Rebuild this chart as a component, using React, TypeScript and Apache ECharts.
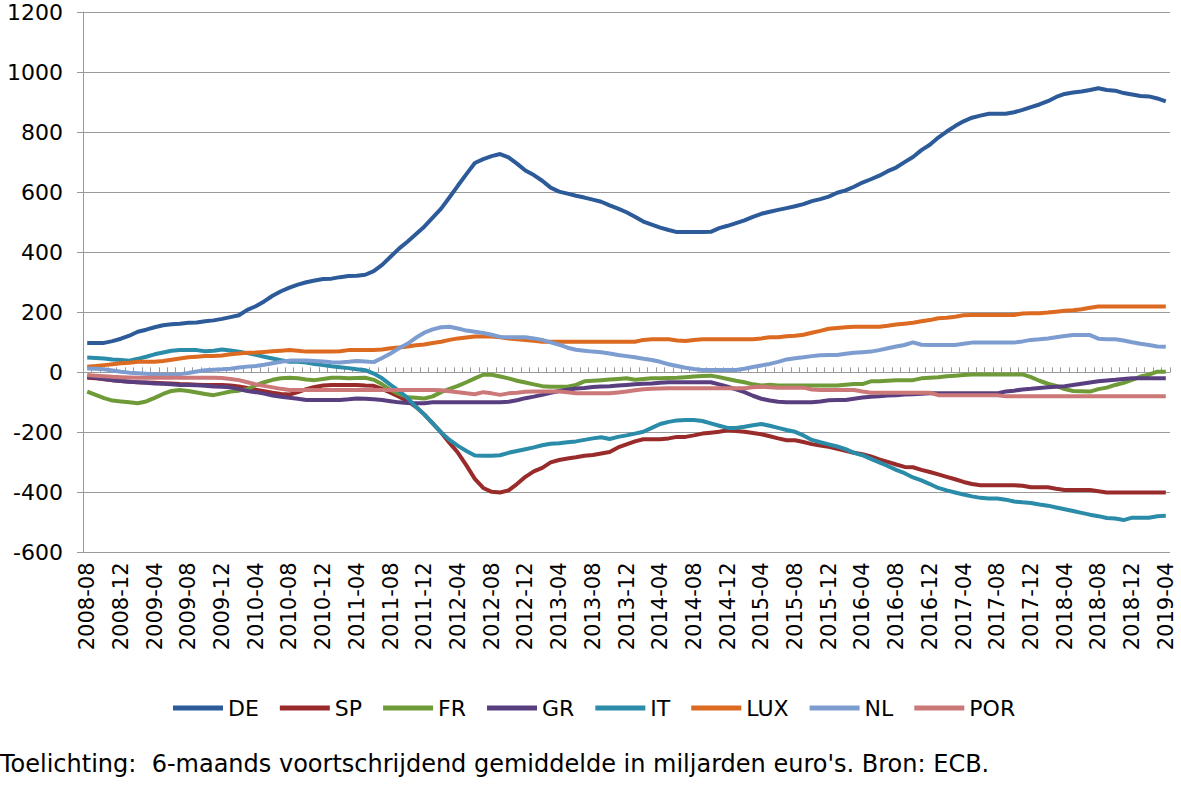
import React, { useEffect, useRef } from "react";
import * as echarts from "echarts";

// Categories: monthly, 2008-08 .. 2019-04
const START_YEAR = 2008;
const START_MONTH = 8;
const N_MONTHS = 129;
const months: string[] = Array.from({ length: N_MONTHS }, (_, i) => {
  const m = START_MONTH - 1 + i;
  const y = START_YEAR + Math.floor(m / 12);
  const mm = (m % 12) + 1;
  return `${y}-${String(mm).padStart(2, "0")}`;
});

const yTicks = { min: -600, max: 1200, step: 200 };

const seriesNames = ["DE", "SP", "FR", "GR", "IT", "LUX", "NL", "POR"];
const seriesColors = ["#2D5B9A", "#992B2B", "#6F9A38", "#5A3F80", "#2A8CA8", "#DC6A20", "#7D9DD0", "#CC7878"];

const DE = [
  98, 98, 98, 104, 112, 122, 135, 142, 150, 157,
  160, 162, 165, 166, 170, 173, 178, 184, 190, 208,
  220, 236, 255, 270, 282, 292, 300, 306, 311, 312,
  317, 321, 322, 325, 337, 358, 385, 412, 435, 460,
  485, 515, 545, 583, 622, 660, 697, 710, 720, 727,
  716, 695, 672, 657, 638, 615, 602, 595, 588, 582,
  575, 568, 556, 545, 533, 518, 502, 492, 482, 474,
  467, 467, 467, 467, 468, 480, 488, 497, 506, 518,
  528, 535, 541, 547, 553, 560, 570, 577, 585, 598,
  606, 618, 632, 643, 655, 670, 682, 700, 717, 740,
  758, 782, 802, 820, 836, 848, 855, 861, 861, 861,
  866, 874, 883, 892, 903, 917, 927, 932, 935, 940,
  946, 940, 938, 930, 925, 920, 919, 912, 902,
];

const SP = [
  -18, -20, -23, -26, -29, -31, -33, -34, -35, -36,
  -37, -39, -40, -41, -42, -42, -42, -44, -47, -52,
  -58, -63, -68, -72, -74, -66, -56, -49, -44, -42,
  -42, -42, -42, -44, -45, -55, -68, -81, -95, -115,
  -140, -170, -200, -235, -268, -310, -355, -385, -398, -400,
  -393, -372, -348, -330, -318, -300, -292, -287, -283, -278,
  -275, -270, -265, -250, -240, -230, -223, -223, -223, -220,
  -215, -215, -210, -204, -201, -198, -193, -195, -198, -202,
  -206, -213, -220, -226, -226, -232, -239, -244, -248, -255,
  -261, -268, -273, -280, -290, -298, -307, -315, -316, -325,
  -332, -340, -348, -356, -365, -372, -376, -376, -376, -376,
  -376, -378, -383, -383, -383, -388, -392, -392, -392, -392,
  -396, -400, -400, -400, -400, -400, -400, -400, -400,
];

const FR = [
  -64, -75, -86, -94, -97, -100, -103, -97, -85, -72,
  -62, -59, -62, -67, -72, -76, -70, -64, -61, -56,
  -43, -33, -25, -20, -18, -20, -24, -26, -22, -18,
  -18, -20, -19, -18, -25, -40, -59, -72, -83, -85,
  -87, -80, -66, -55, -45, -33, -20, -8, -8, -14,
  -20, -28, -34, -40, -46, -48, -48, -48, -42, -30,
  -28, -26, -24, -22, -20, -25, -22, -20, -20, -19,
  -18, -16, -14, -12, -11, -16, -22, -28, -33, -40,
  -44, -41, -44, -44, -44, -44, -44, -44, -44, -44,
  -41, -39, -39, -30, -30, -28, -26, -26, -26, -20,
  -18, -16, -13, -11, -9, -7, -7, -7, -7, -7,
  -7, -7, -16, -28, -38, -45, -56, -62, -63, -64,
  -56, -51, -42, -35, -25, -14, -8, 2, 2,
];

const GR = [
  -14, -18, -22, -26, -29, -31, -33, -35, -37, -38,
  -40, -42, -42, -43, -45, -47, -48, -50, -56, -62,
  -66, -71, -77, -81, -85, -88, -92, -92, -92, -92,
  -92, -90, -87, -88, -90, -92, -96, -100, -102, -103,
  -103, -100, -100, -100, -100, -100, -100, -100, -100, -100,
  -98, -93, -86, -81, -75, -68, -62, -58, -54, -52,
  -49, -47, -46, -44, -42, -40, -38, -37, -35, -33,
  -33, -33, -33, -33, -33, -40, -48, -57, -66, -78,
  -88, -94, -98, -100, -100, -100, -100, -97, -93, -92,
  -92, -88, -84, -81, -80, -77, -76, -74, -73, -71,
  -70, -70, -70, -70, -70, -70, -70, -70, -70, -64,
  -61, -57, -55, -52, -50, -48, -46, -42, -38, -34,
  -30, -27, -25, -22, -20, -20, -20, -20, -20,
];

const IT = [
  49, 48, 46, 43, 41, 39, 45, 52, 60, 66,
  72, 74, 74, 74, 70, 72, 76, 73, 69, 64,
  58, 52, 46, 40, 35, 35, 33, 28, 24, 20,
  17, 14, 10, 7, -4, -20, -42, -62, -85, -115,
  -140, -170, -200, -225, -245, -262, -277, -278, -278, -276,
  -268, -262, -256, -250, -243, -238, -236, -233, -230, -225,
  -220, -216, -222, -215, -210, -204, -198, -185, -172, -165,
  -160, -159, -159, -162, -170, -178, -185, -185, -181, -176,
  -172, -178, -185, -192, -198, -210, -225, -233, -240, -247,
  -256, -268, -276, -288, -300, -312, -325, -336, -350, -360,
  -372, -385, -393, -400, -407, -413, -418, -420, -420, -424,
  -430, -433, -435, -440, -444, -450, -456, -462, -468, -474,
  -479, -485, -487, -492, -484, -484, -484, -479, -478,
];

const LUX = [
  19, 21, 24, 27, 30, 32, 35, 35, 35, 38,
  42, 46, 50, 52, 54, 54, 56, 60, 63, 65,
  66, 68, 70, 72, 74, 72, 69, 69, 69, 69,
  70, 74, 74, 74, 74, 76, 80, 83, 86, 90,
  93, 98, 102, 108, 113, 116, 119, 119, 119, 117,
  113, 110, 108, 105, 102, 102, 102, 102, 102, 102,
  102, 102, 102, 102, 102, 102, 108, 110, 110, 110,
  106, 104, 108, 110, 110, 110, 110, 110, 110, 110,
  113, 117, 117, 120, 122, 125, 132, 138, 145, 148,
  150, 152, 152, 152, 152, 155, 159, 162, 165, 170,
  174, 180, 182, 185, 190, 191, 191, 191, 191, 191,
  191, 196, 197, 197, 199, 202, 205, 207, 210, 215,
  219, 219, 219, 219, 219, 219, 219, 219, 219,
];

const NL = [
  13, 12, 10, 6, 2, -1, -3, -5, -7, -8,
  -8, -6, -2, 3, 7, 9, 10, 12, 16, 19,
  21, 25, 30, 35, 39, 39, 39, 38, 36, 34,
  33, 35, 38, 36, 34, 48, 63, 80, 95, 115,
  132, 143, 150, 152, 146, 139, 135, 131, 125, 118,
  117, 117, 117, 113, 108, 100, 92, 82, 75, 72,
  69, 67, 63, 58, 54, 50, 45, 41, 35, 27,
  21, 15, 11, 8, 8, 8, 8, 8, 12, 18,
  23, 28, 35, 43, 47, 50, 54, 57, 58, 58,
  62, 65, 67, 69, 74, 80, 86, 91, 100, 92,
  91, 91, 91, 91, 95, 99, 99, 99, 99, 99,
  99, 103, 108, 110, 113, 117, 121, 124, 124, 124,
  112, 110, 110, 106, 100, 95, 91, 86, 85,
];

const POR = [
  -9, -11, -13, -15, -16, -17, -18, -18, -18, -18,
  -18, -18, -18, -18, -18, -18, -19, -22, -26, -33,
  -40, -45, -50, -55, -59, -59, -59, -59, -59, -59,
  -59, -59, -59, -59, -59, -59, -59, -59, -59, -59,
  -59, -59, -60, -63, -66, -70, -73, -66, -70, -75,
  -70, -68, -65, -64, -64, -64, -64, -66, -70, -70,
  -70, -70, -70, -67, -64, -60, -56, -55, -54, -53,
  -53, -53, -53, -53, -53, -53, -53, -53, -53, -50,
  -48, -50, -51, -51, -51, -51, -57, -59, -59, -59,
  -59, -59, -64, -68, -68, -68, -68, -68, -68, -68,
  -68, -76, -76, -76, -76, -76, -76, -76, -76, -80,
  -80, -80, -80, -80, -80, -80, -80, -80, -80, -80,
  -80, -80, -80, -80, -80, -80, -80, -80, -80,
];

const seriesData = [DE, SP, FR, GR, IT, LUX, NL, POR];

const footnote = "Toelichting:  6-maands voortschrijdend gemiddelde in miljarden euro's. Bron: ECB.";

const FONT = "DejaVu Sans";
const GRID_GRAY = "#9a9a9a";

export default function App() {
  const ref = useRef<HTMLDivElement>(null);

  useEffect(() => {
    if (!ref.current) return;
    const chart = echarts.init(ref.current, undefined, { renderer: "svg" });
    chart.setOption({
      animation: false,
      backgroundColor: "#ffffff",
      grid: { left: 83, right: 11, top: 12, bottom: 233.5, containLabel: false },
      legend: {
        data: seriesNames,
        icon: "rect",
        left: 168,
        top: 692,
        itemWidth: 50,
        itemHeight: 5,
        itemGap: 21,
        textStyle: { fontFamily: FONT, fontSize: 22, color: "#000" },
      },
      xAxis: {
        type: "category",
        data: months,
        boundaryGap: true,
        axisLine: { show: true, lineStyle: { color: GRID_GRAY, width: 1 } },
        axisTick: {
          show: true,
          interval: 0,
          inside: true,
          length: 5,
          alignWithLabel: false,
          lineStyle: { color: GRID_GRAY },
        },
        axisLabel: {
          interval: 3,
          rotate: 90,
          margin: 10,
          fontFamily: FONT,
          fontSize: 21,
          color: "#000",
        },
        splitLine: { show: false },
      },
      yAxis: {
        type: "value",
        min: yTicks.min,
        max: yTicks.max,
        interval: yTicks.step,
        axisLine: { show: true, lineStyle: { color: GRID_GRAY, width: 1 } },
        axisTick: { show: true, length: 6, lineStyle: { color: GRID_GRAY } },
        axisLabel: {
          margin: 20,
          fontFamily: FONT,
          fontSize: 22,
          color: "#000",
          formatter: (v: number) => String(v),
        },
        splitLine: { show: true, lineStyle: { color: GRID_GRAY, width: 1 } },
      },
      series: seriesNames.map((name, k) => ({
        name,
        type: "line",
        data: seriesData[k],
        symbol: "none",
        color: seriesColors[k],
        itemStyle: { color: seriesColors[k] },
        lineStyle: { width: 4, color: seriesColors[k] },
        emphasis: { disabled: true },
      })),
      graphic: [
        {
          type: "text",
          left: 0,
          top: 752,
          style: { text: footnote, fontFamily: FONT, fontSize: 24, fill: "#000" },
        },
      ],
    });
    return () => chart.dispose();
  }, []);

  return (
    <div
      ref={ref}
      style={{ position: "absolute", left: 0, top: 0, width: 1181, height: 786, background: "#fff" }}
    />
  );
}
